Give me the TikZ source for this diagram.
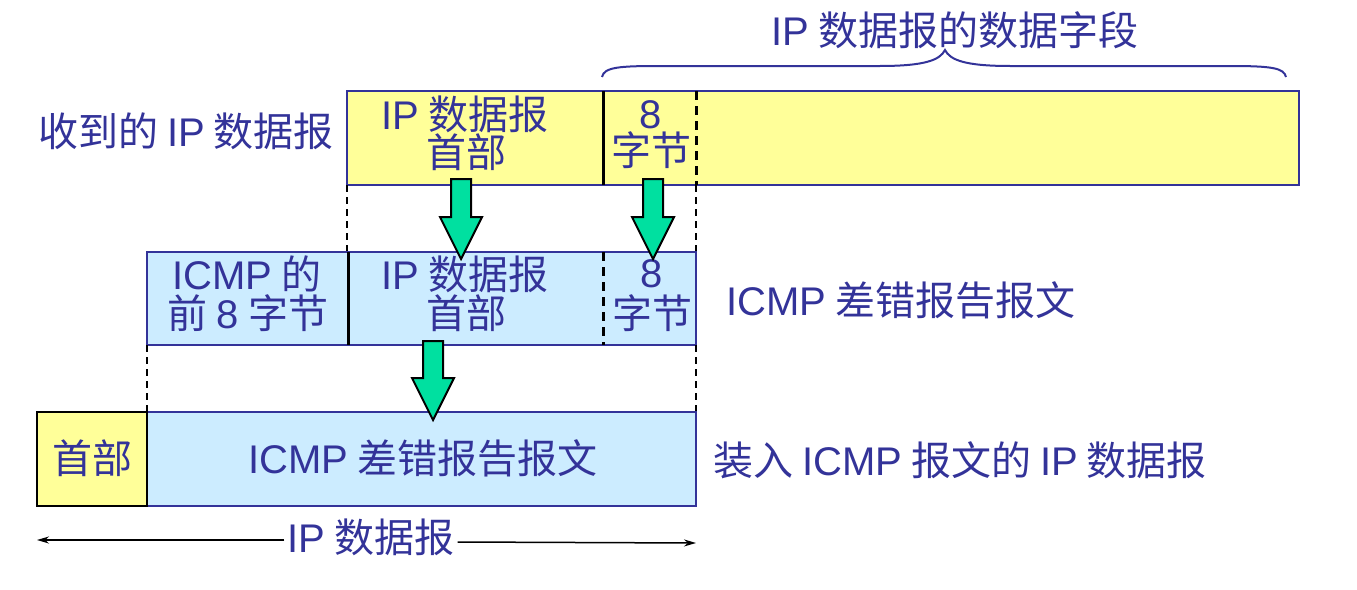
\documentclass[tikz,border=0pt]{standalone}
\usepackage{fontspec}
\setmainfont{Noto Sans CJK SC}
\newfontfamily\la{Liberation Sans}
\definecolor{navy}{RGB}{51,51,153}
\definecolor{ylw}{RGB}{255,255,153}
\definecolor{lblue}{RGB}{204,236,255}
\definecolor{grn}{RGB}{0,224,160}
\tikzset{
  lbl/.style={text=navy, font=\fontsize{40}{40}\selectfont, inner sep=0pt, align=center},
  ln/.style={lbl, text height=29pt, text depth=5pt},
  ybox/.style={draw=navy, fill=ylw, line width=2pt},
  bbox/.style={draw=navy, fill=lblue, line width=2pt},
  divs/.style={draw=black, line width=3pt},
  divd/.style={draw=black, line width=3pt, dash pattern=on 9pt off 6pt},
  guide/.style={draw=black, line width=1.6pt, dash pattern=on 7pt off 5pt},
  garrow/.style={draw=black, fill=grn, line width=2pt, line join=miter},
  dimline/.style={draw=black, line width=1.5pt, -{Stealth[length=12pt,width=7pt]}},
}
\newcommand\grnarrow[3]{%
  \draw[garrow] (#1-10,#2) -- (#1+10,#2) -- (#1+10,#3-42) -- (#1+21,#3-42)
    -- (#1,#3) -- (#1-21,#3-42) -- (#1-10,#3-42) -- cycle;}
\usetikzlibrary{arrows.meta}
\begin{document}
\begin{tikzpicture}[x=1pt,y=-1pt]
\path[use as bounding box] (0,0) rectangle (1357,589);
% ---------- top row
\draw[ybox] (347,91) rectangle (1299,185);
\draw[divs] (603,91) -- (603,185);
\draw[divd] (696,91) -- (696,185);
\node[ln] (tophdrA) at (465,117) {{\la IP} 数据报};
\node[ln] (tophdrB) at (466,155) {首部};
\node[ln] (top8A) at (651,116) {{\la 8}};
\node[ln] (top8B) at (651,153) {字节};
\node[lbl] (recv) at (186,131) {收到的 {\la IP} 数据报};
\node[lbl] (field) at (955,30) {{\la IP} 数据报的数据字段};
\draw[navy, line width=2pt] (602,77) .. controls (604,67) and (620,66) .. (660,66)
  -- (880,66) .. controls (925,66) and (940,60) .. (945,50)
  .. controls (950,60) and (965,66) .. (1010,66) -- (1230,66)
  .. controls (1272,66) and (1284,68) .. (1286,77);
% ---------- guides top->middle
\draw[guide] (347,185) -- (347,252);
\draw[guide] (696,185) -- (696,252);
% ---------- middle row
\draw[bbox] (147,252) rectangle (696,345);
\draw[divs] (348,252) -- (348,345);
\draw[divd] (603,252) -- (603,345);
\node[ln] (icmp8A) at (247,277) {{\la ICMP} 的};
\node[ln] (icmp8B) at (248,316) {前 {\la 8} 字节};
\node[ln] (midhdrA) at (465,277) {{\la IP} 数据报};
\node[ln] (midhdrB) at (466,316) {首部};
\node[ln] (mid8A) at (652,275) {{\la 8}};
\node[ln] (mid8B) at (652,316) {字节};
\node[lbl, anchor=west] (errmsg) at (726,300) {{\la ICMP} 差错报告报文};
% ---------- guides middle->bottom
\draw[guide] (147,345) -- (147,412);
\draw[guide] (696,345) -- (696,412);
% ---------- bottom row
\draw[bbox] (147,412) rectangle (696,506);
\draw[draw=black, fill=ylw, line width=2.5pt] (37,412) rectangle (147,506);
\node[lbl] (bhdr) at (92,458) {首部};
\node[lbl] (bicmp) at (423,458) {{\la ICMP} 差错报告报文};
\node[lbl, anchor=west] (packed) at (713,460) {装入 {\la ICMP} 报文的 {\la IP} 数据报};
% ---------- green arrows
\grnarrow{461}{179}{259}
\grnarrow{653}{179}{259}
\grnarrow{433}{341}{420}
% ---------- dimension line
\node[lbl, inner xsep=3pt] (iplen) at (371,537) {{\la IP} 数据报};
\coordinate (dl) at (37,540);
\coordinate (dr) at (696,543);
\draw[dimline] (iplen.west |- 0,540) -- (dl);
\draw[dimline] (iplen.east |- 0,542) -- (dr);
\end{tikzpicture}
\end{document}
